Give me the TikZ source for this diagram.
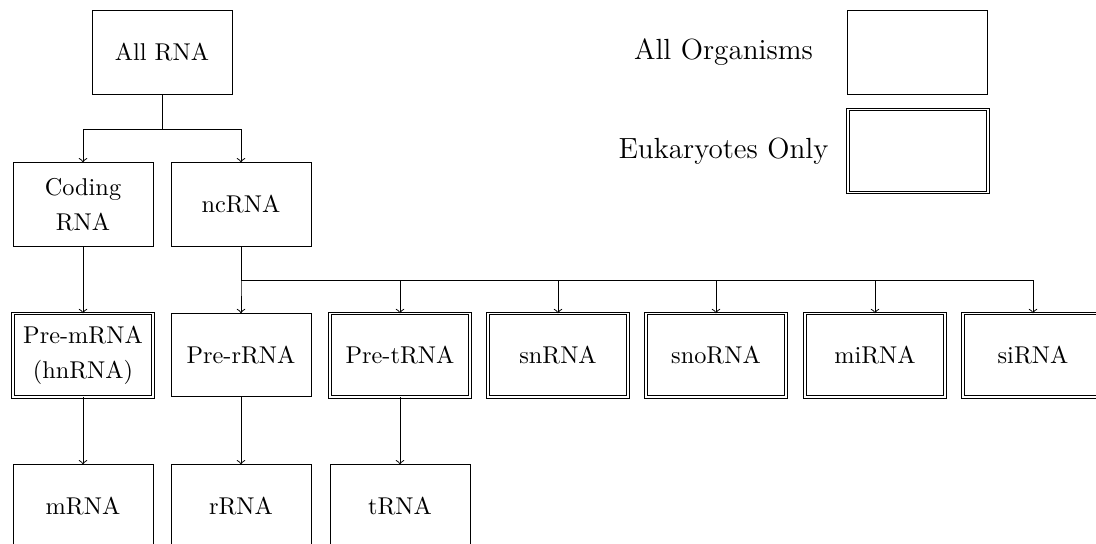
\documentclass[tikz,border=0pt]{standalone}
\usetikzlibrary{calc}
\begin{document}
\begin{tikzpicture}[x=0.4115pt,y=-0.4115pt,
  box/.style={draw, line width=0.4pt, minimum width=57.6pt, minimum height=34.2pt,
    align=center, inner sep=2pt, font=\fontsize{10}{14.5}\selectfont},
  dbox/.style={box, double, double distance=0.6pt},
  arr/.style={->, line width=0.4pt},
  legtext/.style={font=\large}]
\useasboundingbox (0,0) rectangle (1096,544);
% tree nodes
\node[box] (all) at (162,52.5) {All RNA};
\node[box] (coding) at (83,204.5) {Coding\\RNA};
\node[box] (nc) at (241,204.5) {ncRNA};
\node[dbox] (premrna) at (83,355.3) {Pre-mRNA\\(hnRNA)};
\node[box] (prerrna) at (241,355.3) {Pre-rRNA};
\node[dbox] (pretrna) at (400,355.3) {Pre-tRNA};
\node[dbox] (snrna) at (558,355.3) {snRNA};
\node[dbox] (snorna) at (716,355.3) {snoRNA};
\node[dbox] (mirna) at (875,355.3) {miRNA};
\node[dbox] (sirna) at (1033,355.3) {siRNA};
\node[box] (mrna) at (83,506.5) {mRNA};
\node[box] (rrna) at (241,506.5) {rRNA};
\node[box] (trna) at (400,506.5) {tRNA};
% legend
\node[legtext] (lab1) at (723.5,52.5) {All Organisms};
\node[box] (leg1) at (917.5,52.5) {};
\node[legtext] (lab2) at (723.5,151) {Eukaryotes Only};
\node[dbox] (leg2) at (918,151) {};
% connectors
\coordinate (allbar) at ($(all.south)+(0,34.5)$);
\coordinate (ncbar) at ($(nc.south)+(0,34)$);
\draw[arr] (all.south) -- (allbar) -| (coding.north);
\draw[arr] (all.south) -- (allbar) -| (nc.north);
\draw[arr] (coding.south) -- (premrna.north);
\foreach \c in {prerrna,pretrna,snrna,snorna,mirna,sirna}
  \draw[arr] (nc.south) -- (ncbar) -| (\c.north);
\draw[arr] (premrna.south) -- (mrna.north);
\draw[arr] (prerrna.south) -- (rrna.north);
\draw[arr] (pretrna.south) -- (trna.north);
\end{tikzpicture}
\end{document}
